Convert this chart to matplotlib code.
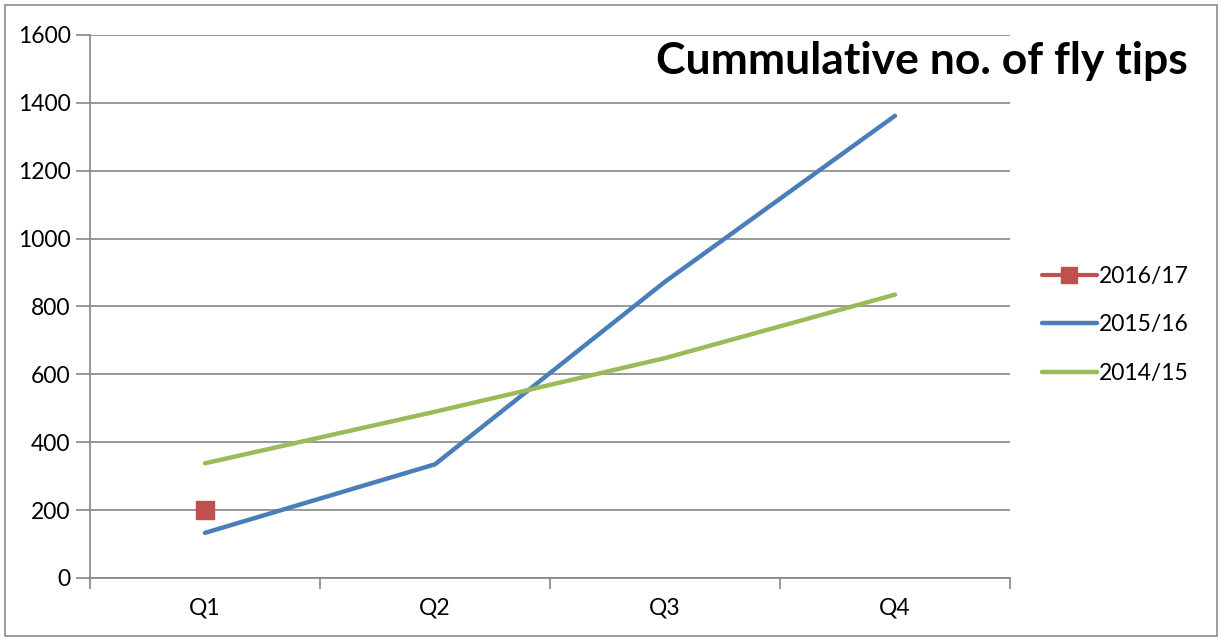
import matplotlib
matplotlib.use("Agg")
import matplotlib.pyplot as plt
from matplotlib.patches import Rectangle
from matplotlib.lines import Line2D

categories = ["Q1", "Q2", "Q3", "Q4"]
s2016_17 = [200]
s2015_16 = [133, 335, 873, 1362]
s2014_15 = [338, 490, 648, 835]
yticks = [0, 200, 400, 600, 800, 1000, 1200, 1400, 1600]

plt.rcParams['font.family'] = ['Lato', 'DejaVu Sans']

W, H = 1223, 639
fig = plt.figure(figsize=(W/100, H/100), dpi=100)
fig.patches.append(Rectangle((5/W, 3/H), 1-11/W, 1-8/H, transform=fig.transFigure,
                             fill=False, edgecolor='#8c8c8c', linewidth=1.2))
ax = fig.add_axes([90/W, 1-578/H, 920/W, 543/H])

x = list(range(len(categories)))
grid_c = '#868686'
ax.plot(x[:len(s2016_17)], s2016_17, color='#C0504D', lw=3, marker='s', ms=13,
        label='2016/17', solid_capstyle='round')
ax.plot(x, s2015_16, color='#4A7EBB', lw=3.2, label='2015/16', solid_capstyle='round')
ax.plot(x, s2014_15, color='#9BBB59', lw=3.2, label='2014/15', solid_capstyle='round')

ax.set_xlim(-0.5, 3.5)
ax.set_ylim(0, 1600)
ax.set_yticks(yticks)
ax.set_yticklabels([str(v) for v in yticks], fontsize=16.5)
ax.set_xticks(x)
ax.set_xticklabels(categories, fontsize=16.5)
ax.set_xticks([-0.5, 0.5, 1.5, 2.5, 3.5], minor=True)
ax.tick_params(axis='x', which='major', length=0, pad=14)
ax.tick_params(axis='x', which='minor', length=8, color=grid_c, width=1.2)
ax.tick_params(axis='y', length=10, color=grid_c, width=1.2, pad=4)
ax.yaxis.grid(True, color=grid_c, lw=1.2)
ax.set_axisbelow(True)
for s in ['top', 'right']:
    ax.spines[s].set_visible(False)
for s in ['left', 'bottom']:
    ax.spines[s].set_color(grid_c)
    ax.spines[s].set_linewidth(1.2)

fig.text(1188/W, 1-61/H, "Cummulative no. of fly tips", fontsize=32, fontweight='bold',
         ha='right', va='center')

handles = [
    Line2D([], [], color='#C0504D', lw=3, marker='s', ms=11, solid_capstyle='round'),
    Line2D([], [], color='#4A7EBB', lw=3.2, solid_capstyle='round'),
    Line2D([], [], color='#9BBB59', lw=3.2, solid_capstyle='round'),
]
labels = ['2016/17', '2015/16', '2014/15']
leg = fig.legend(handles, labels, loc='upper left', bbox_to_anchor=(1021/W, 1-245/H),
                 frameon=False, fontsize=16.5, handlelength=2.4, handletextpad=0.1,
                 labelspacing=1.2)

fig.savefig("out.png", dpi=100)
